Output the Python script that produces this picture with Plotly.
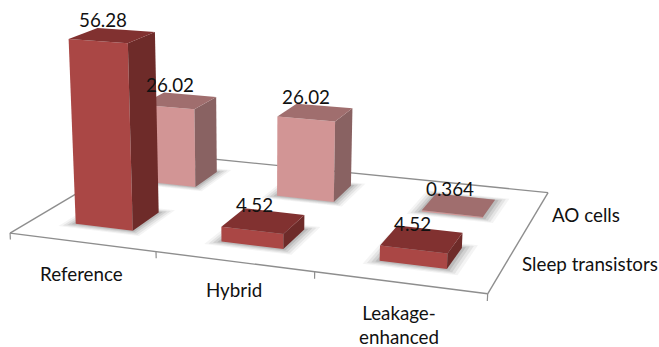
import numpy as np
import plotly.graph_objects as go

# Chart data
categories = ["Reference", "Hybrid", "Leakage-<br>enhanced"]
series_names = ["Sleep transistors", "AO cells"]
sleep_transistors = [56.28, 4.52, 4.52]
ao_cells = [26.02, 26.02, 0.364]

# Perspective camera: (category, series, value, 1) -> homogeneous page position
CAMERA = np.array([
    [139.7435, 82.93634, -0.1753649, 10.05347],
    [8.509209, -24.72437, -3.37196, 233.0703],
    [-0.0399152, 0.1028264, -0.0006797481, 1.0],
])
BAR_HALF_X = 0.2006
BAR_HALF_Y = 0.1949

SLEEP_COLORS = dict(front="#AA4745", top="#813130", side="#6E2B29")
AO_COLORS = dict(front="#D29595", top="#A06E6E", side="#896262")
FLOOR_LINE = "#8E8E8E"
FONT = "Lato, Carlito, Calibri, sans-serif"
TEXT_SIZE = 18.8

# Label nudges in page pixels
CATEGORY_DROP = [31, 28, 42]
SERIES_SHIFT = [(85, 1), (51, 0)]


def project(x, y, z):
    h = CAMERA @ np.array([x, y, z, 1.0])
    return h[0] / h[2], h[1] / h[2]


def polygon(corners, color):
    xy = [project(*c) for c in corners]
    xy.append(xy[0])
    return go.Scatter(
        x=[p[0] for p in xy], y=[p[1] for p in xy], mode="lines",
        line=dict(width=0), fill="toself", fillcolor=color,
        hoverinfo="skip", showlegend=False,
    )


def segment(a, b, width=1.4):
    pa, pb = project(*a), project(*b)
    return go.Scatter(
        x=[pa[0], pb[0]], y=[pa[1], pb[1]], mode="lines",
        line=dict(color=FLOOR_LINE, width=width),
        hoverinfo="skip", showlegend=False,
    )


def shadow(ix, iy):
    cx, cy = ix + 0.5, iy + 0.5
    traces = []
    for grow, alpha in [(0.08, 0.06), (0.06, 0.09), (0.04, 0.12), (0.02, 0.15)]:
        hx, hy = BAR_HALF_X + grow, BAR_HALF_Y + grow
        traces.append(polygon(
            [(cx - hx, cy - hy, 0), (cx + hx, cy - hy, 0),
             (cx + hx, cy + hy, 0), (cx - hx, cy + hy, 0)],
            f"rgba(70,70,70,{alpha})",
        ))
    return traces


def bar(ix, iy, value, colors):
    x0, x1 = ix + 0.5 - BAR_HALF_X, ix + 0.5 + BAR_HALF_X
    y0, y1 = iy + 0.5 - BAR_HALF_Y, iy + 0.5 + BAR_HALF_Y
    return [
        polygon([(x0, y0, 0), (x1, y0, 0), (x1, y0, value), (x0, y0, value)], colors["front"]),
        polygon([(x1, y0, 0), (x1, y1, 0), (x1, y1, value), (x1, y0, value)], colors["side"]),
        polygon([(x0, y0, value), (x1, y0, value), (x1, y1, value), (x0, y1, value)], colors["top"]),
    ]


fig = go.Figure()
n_cat, n_ser = len(categories), len(series_names)

# Floor outline and the category ticks hanging from its front edge
fig.add_trace(segment((0, 0, 0), (n_cat, 0, 0)))
fig.add_trace(segment((n_cat, 0, 0), (n_cat, n_ser, 0)))
fig.add_trace(segment((n_cat, n_ser, 0), (0, n_ser, 0)))
fig.add_trace(segment((0, n_ser, 0), (0, 0, 0)))
for i in range(n_cat + 1):
    fig.add_trace(segment((i, 0, 0), (i, 0, -2), width=1.2))

# Rear row first so the front row hides it
rows = [(1, ao_cells, AO_COLORS), (0, sleep_transistors, SLEEP_COLORS)]
for iy, values, colors in rows:
    for ix in range(n_cat):
        fig.add_traces(shadow(ix, iy))
for iy, values, colors in rows:
    for ix, value in enumerate(values):
        fig.add_traces(bar(ix, iy, value, colors))

annotations = []


def label(x, y, text, xshift=0, yshift=0):
    annotations.append(dict(
        x=x, y=y, text=text, showarrow=False, xanchor="center", yanchor="middle",
        xshift=xshift, yshift=yshift, align="center",
        font=dict(family=FONT, size=TEXT_SIZE, color="#111111"),
    ))


# Value labels sit just above each bar's top face
for iy, values, _ in rows:
    for ix, value in enumerate(values):
        px, py = project(ix + 0.5, iy + 0.5, value)
        label(px, py, f"{value:g}", xshift=-9, yshift=16)

# Category labels below the front edge
for ix, name in enumerate(categories):
    px, py = project(ix + 0.5, 0, 0)
    label(px, py, name, yshift=-CATEGORY_DROP[ix])

# Series labels beyond the right edge
for iy, name in enumerate(series_names):
    px, py = project(n_cat, iy + 0.5, 0)
    label(px, py, name, xshift=SERIES_SHIFT[iy][0], yshift=SERIES_SHIFT[iy][1])

fig.update_layout(
    width=659, height=347, margin=dict(l=0, r=0, t=0, b=0),
    paper_bgcolor="white", plot_bgcolor="white",
    xaxis=dict(range=[0, 659], visible=False, fixedrange=True),
    yaxis=dict(range=[347, 0], visible=False, fixedrange=True),
    annotations=annotations, showlegend=False,
)
fig.write_html("out.html", config=dict(displayModeBar=False))
